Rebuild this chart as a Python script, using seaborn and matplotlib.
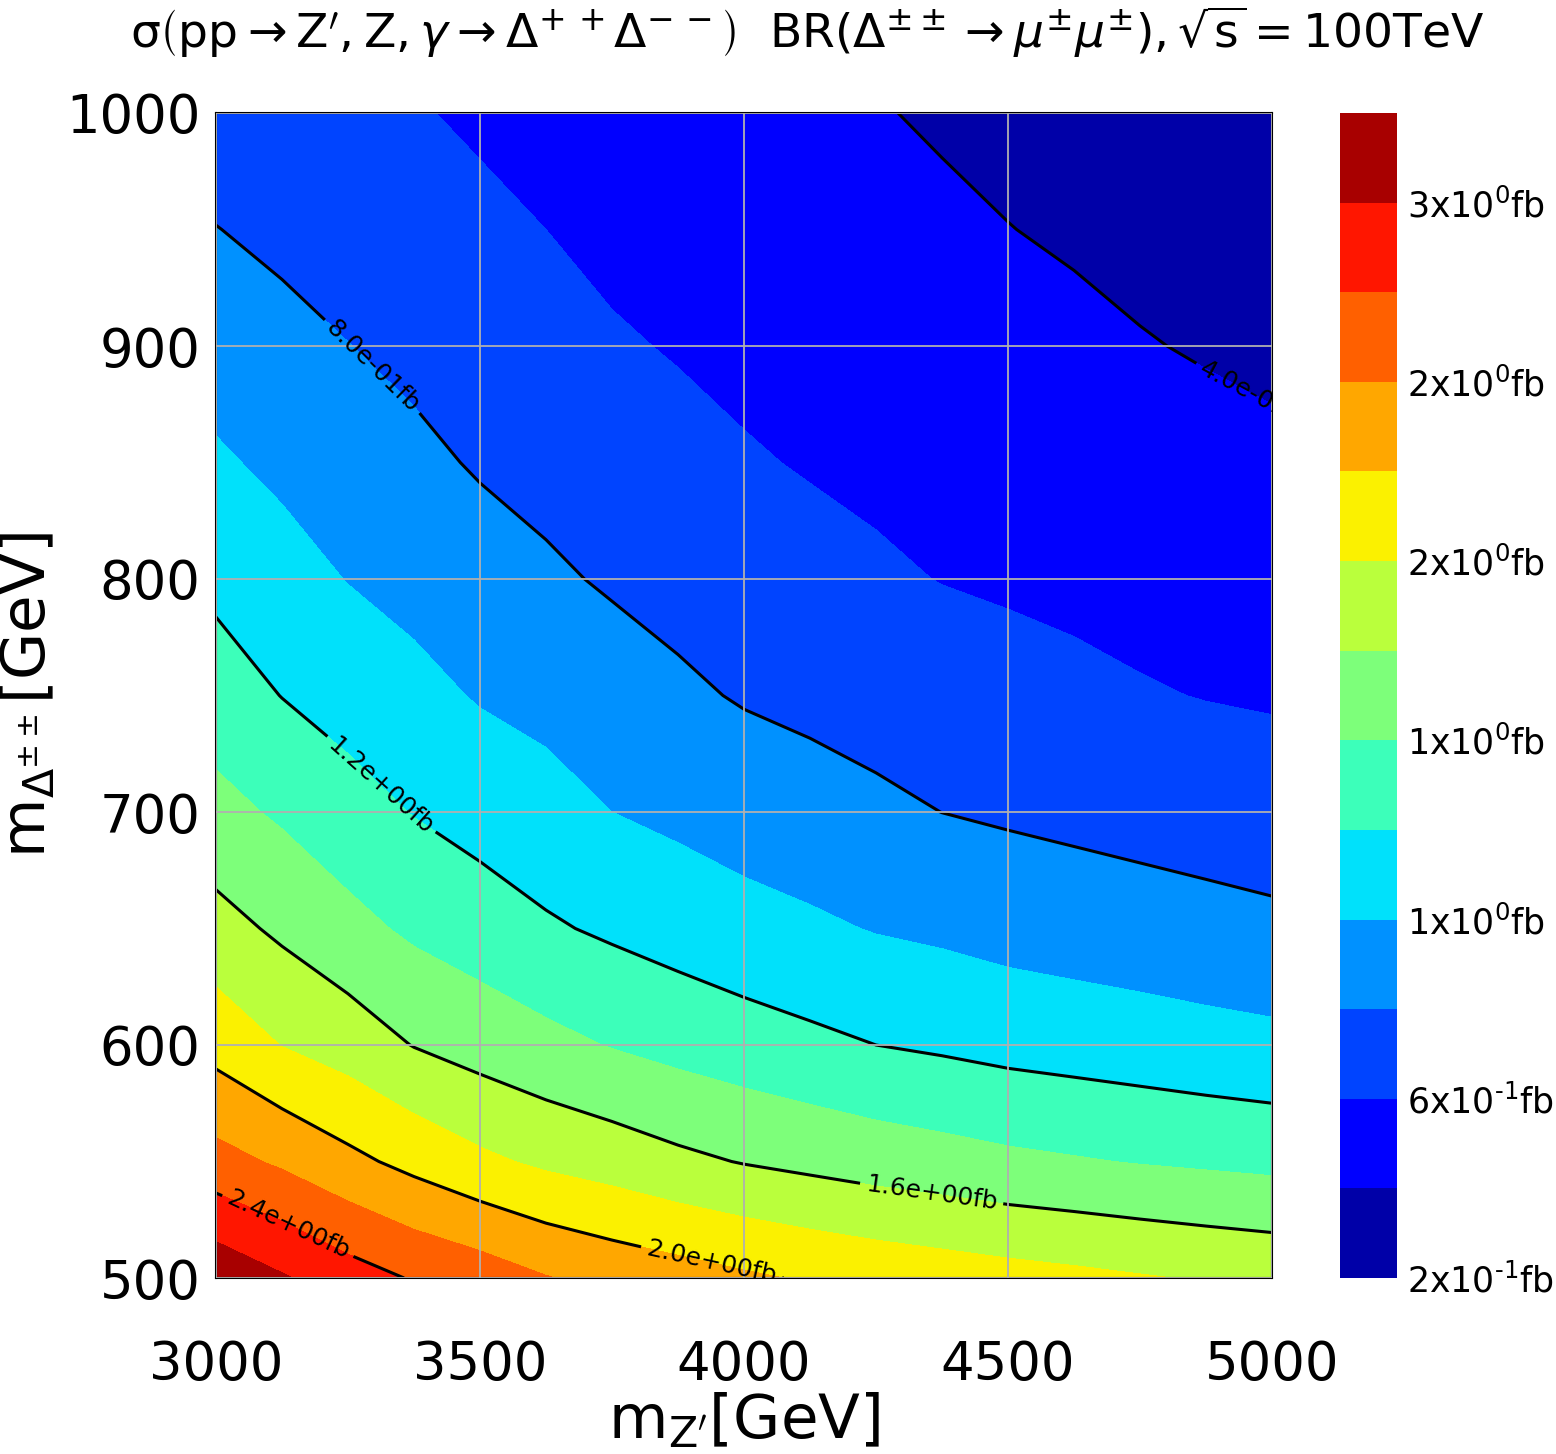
import numpy as np
import pandas as pd
import matplotlib
matplotlib.use("Agg")
import matplotlib.pyplot as plt
from matplotlib.colors import Normalize
import seaborn as sns

# ---------------- data ----------------
m_zprime = [3000, 3125, 3250, 3375, 3500, 3625, 3750, 3875, 4000,
            4125, 4250, 4375, 4500, 4625, 4750, 4875, 5000]              # GeV
m_delta = [500, 550, 600, 650, 700, 750, 800, 850, 900, 950, 1000]      # GeV

# cross section [fb] for each m_Delta row, across m_Z' columns
sig_m500 = [2.75, 2.62, 2.49, 2.384, 2.31, 2.21, 2.14, 2.086, 2.03,
            1.98, 1.94, 1.907, 1.874, 1.846, 1.815, 1.785, 1.76]
sig_m550 = [2.27, 2.17, 2.05, 1.943, 1.84, 1.764, 1.71, 1.643, 1.59,
            1.55, 1.51, 1.476, 1.44, 1.415, 1.39, 1.37, 1.35]
sig_m600 = [1.93, 1.795, 1.71, 1.593, 1.52, 1.454, 1.39, 1.337, 1.29,
            1.244, 1.20, 1.172, 1.14, 1.118, 1.096, 1.071, 1.05]
sig_m650 = [1.67, 1.565, 1.46, 1.365, 1.30, 1.224, 1.17, 1.12, 1.07,
            1.032, 0.99, 0.964, 0.93, 0.907, 0.885, 0.862, 0.84]
sig_m700 = [1.46, 1.372, 1.275, 1.192, 1.126, 1.072, 1.00, 0.957, 0.912,
            0.876, 0.838, 0.799, 0.776, 0.755, 0.734, 0.715, 0.696]
sig_m750 = [1.295, 1.196, 1.125, 1.055, 0.985, 0.942, 0.885, 0.832, 0.785,
            0.756, 0.725, 0.695, 0.666, 0.641, 0.614, 0.594, 0.581]
sig_m800 = [1.154, 1.074, 0.994, 0.94, 0.88, 0.828, 0.78, 0.741, 0.702,
            0.665, 0.627, 0.595, 0.577, 0.56, 0.542, 0.524, 0.506]
sig_m850 = [1.026, 0.959, 0.899, 0.84, 0.783, 0.745, 0.70, 0.662, 0.618,
            0.586, 0.563, 0.541, 0.519, 0.499, 0.475, 0.453, 0.431]
sig_m900 = [0.913, 0.856, 0.803, 0.757, 0.713, 0.672, 0.622, 0.586, 0.554,
            0.536, 0.512, 0.486, 0.461, 0.437, 0.409, 0.387, 0.369]
sig_m950 = [0.804, 0.758, 0.72, 0.686, 0.642, 0.60, 0.552, 0.526, 0.495,
            0.478, 0.461, 0.432, 0.403, 0.38, 0.357, 0.336, 0.317]
sig_m1000 = [0.696, 0.667, 0.64, 0.614, 0.572, 0.534, 0.49, 0.469, 0.436,
             0.423, 0.41, 0.38, 0.357, 0.33, 0.307, 0.285, 0.264]

fill_levels = [0.2, 0.4, 0.6, 0.8, 1.0, 1.2, 1.4, 1.6, 1.8, 2.0, 2.2, 2.4, 2.6, 2.8]
line_levels = [0.4, 0.8, 1.2, 1.6, 2.0, 2.4]
cbar_ticks = [0.2, 0.6, 1.0, 1.4, 1.8, 2.2, 2.6]
cbar_labels = [r"2x10$^{\text{-}1}$fb", r"6x10$^{\text{-}1}$fb", r"1x10$^{0}$fb", r"1x10$^{0}$fb",
               r"2x10$^{0}$fb", r"2x10$^{0}$fb", r"3x10$^{0}$fb"]
x_ticks = [3000, 3500, 4000, 4500, 5000]
y_ticks = [500, 600, 700, 800, 900, 1000]

# ---------------- build table ----------------
rows = [sig_m500, sig_m550, sig_m600, sig_m650, sig_m700, sig_m750,
        sig_m800, sig_m850, sig_m900, sig_m950, sig_m1000]
df = pd.DataFrame(rows, index=m_delta, columns=m_zprime)
X, Y = np.meshgrid(df.columns.values, df.index.values)
Z = df.values

# ---------------- style ----------------
sns.set_style("white")
plt.rcParams["font.family"] = ["DejaVu Sans"]
plt.rcParams["mathtext.fontset"] = "dejavusans"
for k in ["text.color", "axes.labelcolor", "xtick.color", "ytick.color"]:
    plt.rcParams[k] = "black"

W, H = 1556, 1454
fig = plt.figure(figsize=(W / 100, H / 100), dpi=100)
ax = fig.add_axes([216 / W, 1 - 1278 / H, 1056 / W, 1165 / H])
cax = fig.add_axes([1340 / W, 1 - 1278 / H, 57 / W, 1165 / H])

norm = Normalize(vmin=fill_levels[0], vmax=fill_levels[-1])
cf = ax.contourf(X, Y, Z, levels=fill_levels, cmap="jet", norm=norm)
cf.set_zorder(0.5)
cl = ax.contour(X, Y, Z, levels=line_levels, colors="k", linewidths=2.2)
ax.clabel(cl, fmt="%.1efb", fontsize=18, inline=True, inline_spacing=6,
          manual=[(4965, 878), (3295, 891), (3310, 711), (4354, 534),
                  (3939, 507), (3133, 521)])

ax.set_axisbelow(False)
ax.grid(True, color="#b0b0b0", linewidth=1.3)

ax.set_xlim(3000, 5000)
ax.set_ylim(500, 1000)
ax.set_xticks(x_ticks)
ax.set_yticks(y_ticks)
ax.tick_params(axis="both", labelsize=38, length=0)
ax.tick_params(axis="x", pad=44)
ax.tick_params(axis="y", pad=11)
for s in ax.spines.values():
    s.set_visible(True)
    s.set_color("black")
    s.set_linewidth(1.5)

ax.set_xlabel(r"$\mathrm{m_{Z^{\prime}}[GeV]}$", fontsize=44, labelpad=0)
ax.set_ylabel(r"$\mathrm{m}_{\Delta^{\pm\pm}}\mathrm{[GeV]}$", fontsize=44, labelpad=6)

cb = fig.colorbar(cf, cax=cax, ticks=cbar_ticks)
cb.ax.set_yticklabels(cbar_labels)
cb.ax.tick_params(labelsize=25, length=0, pad=7)
cb.outline.set_visible(False)

title = (r"σ$\left(\mathrm{pp}\rightarrow\mathrm{Z}^{\prime},\mathrm{Z},\gamma\rightarrow"
         r"\Delta^{+\,+}\Delta^{-\,-}\right)$  "
         r"$\mathrm{BR}(\Delta^{\pm\pm}\rightarrow\mu^{\pm}\mu^{\pm}),\sqrt{\mathrm{s}}=100\mathrm{TeV}$")
fig.text(807 / W, 1 - 32 / H, title, fontsize=34, ha="center", va="center")

fig.savefig("out.png", dpi=100)
